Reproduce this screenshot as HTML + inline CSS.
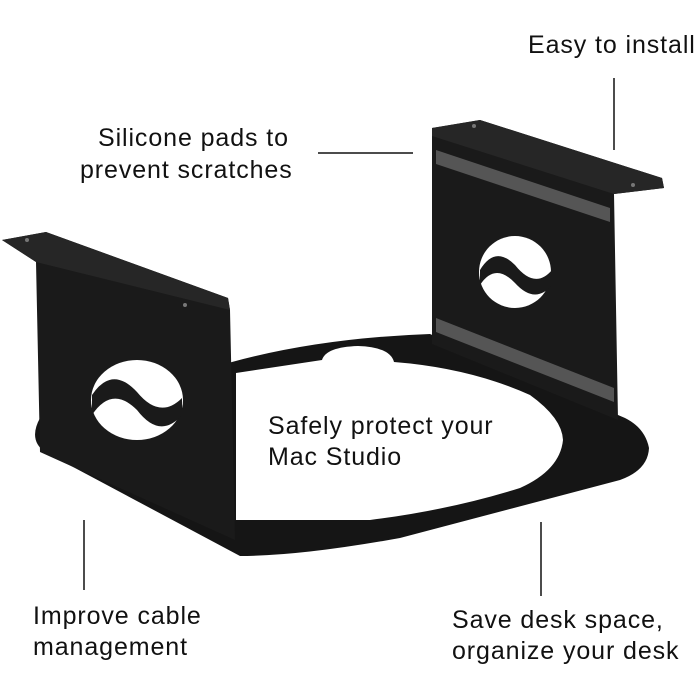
<!DOCTYPE html>
<html><head><style>
body{margin:0;background:#fff;width:700px;height:700px;overflow:hidden;position:relative;font-family:"Liberation Sans",sans-serif;}
.t{position:absolute;font-size:25px;color:#111;line-height:31px;letter-spacing:0.9px;white-space:nowrap}
</style></head><body>
<svg width="700" height="700" style="position:absolute;left:0;top:0">
<g stroke="#111" stroke-width="1.5">
<line x1="614" y1="78" x2="614" y2="150"/>
<line x1="318" y1="153" x2="413" y2="153"/>
<line x1="84" y1="520" x2="84" y2="590"/>
<line x1="541" y1="522" x2="541" y2="596"/>
</g>
<!-- base plate -->
<path d="M40,418 L232,362 Q320,338 430,334 L625,418 Q645,428 649,448 Q648,470 620,480 L400,538 Q300,556 240,556 L45,452 Q28,440 40,418 Z" fill="#151515"/>
<path d="M236,373 L322,360 Q326,347 358,346 Q390,347 394,362 Q470,368 530,395 Q562,418 563,440 Q560,470 520,488 Q450,510 370,520 L236,520 Z" fill="#fff"/>
<!-- right bracket -->
<path d="M432,128 L480,120 L662,178 L664,188 L614,194 L618,420 L432,344 Z" fill="#1a1a1a"/>
<path d="M480,120 L662,178 L664,188 L614,194 L432,136 L432,128 Z" fill="#262626"/>
<path d="M436,150 L610,208 L610,222 L436,164 Z" fill="#555"/>
<path d="M436,318 L614,388 L614,402 L436,332 Z" fill="#555"/>
<ellipse cx="515" cy="272" rx="36" ry="36" fill="#fff"/>
<path d="M480,270 Q495,245 515,265 Q535,290 552,270 L552,285 Q535,305 515,283 Q495,262 480,285 Z" fill="#1a1a1a"/>
<!-- left bracket -->
<path d="M2,240 L46,232 L228,298 L230,310 L235,540 L40,452 L36,262 Z" fill="#1a1a1a"/>
<path d="M2,240 L46,232 L228,298 L230,310 L36,262 Z" fill="#262626"/>
<ellipse cx="137" cy="400" rx="46" ry="40" fill="#fff"/>
<path d="M92,395 Q112,365 137,392 Q160,420 182,398 L182,415 Q160,440 137,410 Q112,385 92,415 Z" fill="#1a1a1a"/>
<circle cx="27" cy="240" r="2" fill="#777"/><circle cx="185" cy="305" r="2" fill="#777"/>
<circle cx="474" cy="126" r="2" fill="#777"/><circle cx="633" cy="185" r="2" fill="#777"/>
</svg>
<div class="t" style="left:528px;top:30px">Easy to install</div>
<div class="t" style="left:98px;top:123px">Silicone pads to</div>
<div class="t" style="left:80px;top:155px">prevent scratches</div>
<div class="t" style="left:268px;top:411px">Safely protect your</div>
<div class="t" style="left:268px;top:442px">Mac Studio</div>
<div class="t" style="left:33px;top:601px">Improve cable</div>
<div class="t" style="left:33px;top:632px">management</div>
<div class="t" style="left:452px;top:605px">Save desk space,</div>
<div class="t" style="left:452px;top:636px">organize your desk</div>
</body></html>
